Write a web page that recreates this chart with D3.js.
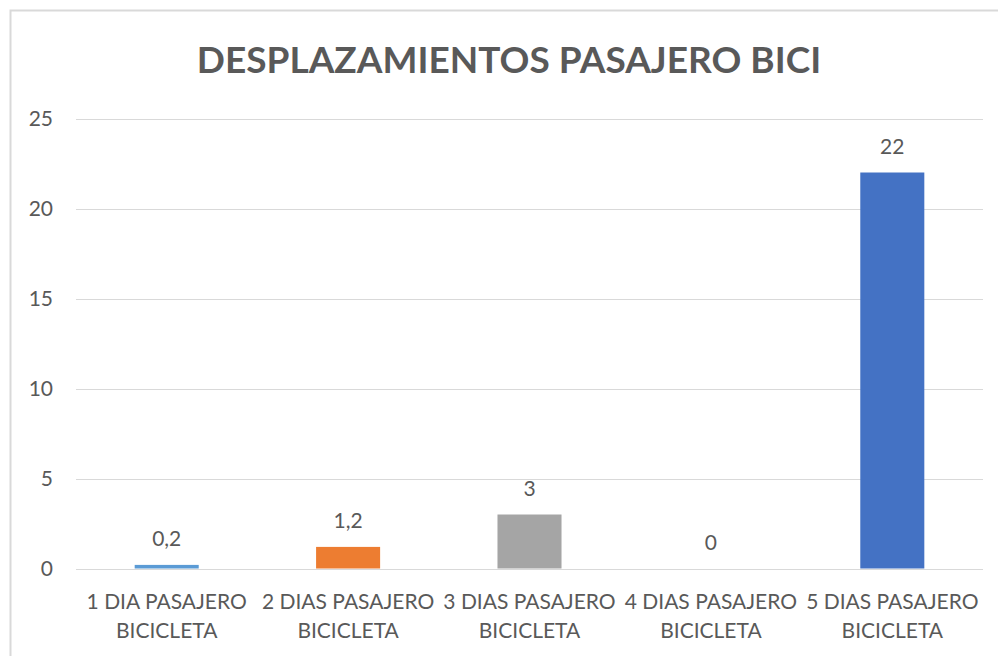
<!DOCTYPE html>
<html>
<head>
<meta charset="utf-8">
<script src="https://cdn.jsdelivr.net/npm/d3@7"></script>
<style>
  body { margin: 0; background: #fff; }
  text { font-family: Lato, "Open Sans", sans-serif; fill: #595959; }
</style>
</head>
<body>
<svg width="998" height="656"></svg>
<script>
// chart data
var categories = ['1 DIA PASAJERO BICICLETA', '2 DIAS PASAJERO BICICLETA', '3 DIAS PASAJERO BICICLETA', '4 DIAS PASAJERO BICICLETA', '5 DIAS PASAJERO BICICLETA'];
var values = [0.2, 1.2, 3, 0, 22];
var barColors = ['#5B9BD5', '#ED7D31', '#A5A5A5', '#FFC000', '#4472C4'];
var yTicks = [0, 5, 10, 15, 20, 25];
var title = 'DESPLAZAMIENTOS PASAJERO BICI';

function main() {
	var svg = d3.select('svg'),
	width = +svg.attr('width'),
	height = +svg.attr('height');

	var margin = {left: 76, right: 15, top: 118.5, bottom: 87.5};

	// chart area border
	svg.append('rect')
		.attr('x', 10.5).attr('y', 10.5)
		.attr('width', width).attr('height', height)
		.attr('fill', 'none')
		.attr('stroke', '#d9d9d9')
		.attr('stroke-width', 2);

	var x = d3.scaleBand()
		.domain(categories)
		.range([margin.left, width - margin.right])
		.padding(0);
	var y = d3.scaleLinear()
		.domain([0, 25])
		.range([height - margin.bottom, margin.top]);

	var locale = d3.formatLocale({decimal: ',', thousands: '.', grouping: [3], currency: ['', '€']});
	var fmt = locale.format('~g');

	// gridlines
	svg.append('g')
		.selectAll('line')
		.data(yTicks)
		.enter().append('line')
		.attr('x1', margin.left).attr('x2', width - margin.right)
		.attr('y1', function(d){ return Math.round(y(d)) + 0.5; })
		.attr('y2', function(d){ return Math.round(y(d)) + 0.5; })
		.attr('stroke', '#d9d9d9')
		.attr('stroke-width', 1);

	// y axis labels
	svg.append('g')
		.selectAll('text')
		.data(yTicks)
		.enter().append('text')
		.attr('x', 53)
		.attr('y', function(d){ return y(d) + 7; })
		.attr('text-anchor', 'end')
		.style('font-size', '21px')
		.text(function(d){ return d; });

	// bars
	var barW = x.bandwidth() * 0.353;
	svg.append('g')
		.selectAll('rect')
		.data(values)
		.enter().append('rect')
		.attr('x', function(d, i){ return x(categories[i]) + (x.bandwidth() - barW) / 2; })
		.attr('y', function(d){ return y(d); })
		.attr('width', barW)
		.attr('height', function(d){ return y(0) - y(d); })
		.attr('fill', function(d, i){ return barColors[i]; });

	// value labels
	svg.append('g')
		.selectAll('text')
		.data(values)
		.enter().append('text')
		.attr('x', function(d, i){ return x(categories[i]) + x.bandwidth() / 2; })
		.attr('y', function(d){ return y(d) - 19; })
		.attr('text-anchor', 'middle')
		.style('font-size', '21px')
		.text(function(d){ return fmt(d); });

	// category labels on two lines
	var cat = svg.append('g')
		.selectAll('text')
		.data(categories)
		.enter().append('text')
		.attr('text-anchor', 'middle')
		.style('font-size', '21px')
		.attr('transform', function(d){ return 'translate(' + (x(d) + x.bandwidth() / 2) + ',' + 609 + ')'; });
	cat.append('tspan')
		.attr('x', 0).attr('y', 0)
		.text(function(d){ return d.replace(' BICICLETA', ''); });
	cat.append('tspan')
		.attr('x', 0).attr('y', 29)
		.text('BICICLETA');

	// title
	svg.append('text')
		.attr('x', 509)
		.attr('y', 73)
		.attr('text-anchor', 'middle')
		.style('font-size', '37px')
		.style('font-weight', 'bold')
		.text(title);
}
main();
</script>
</body>
</html>
